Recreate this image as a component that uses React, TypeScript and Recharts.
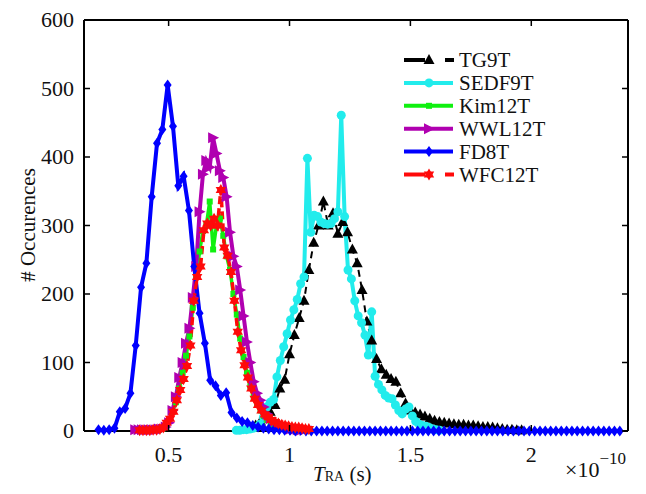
import { LineChart, Line, XAxis, YAxis, Legend } from 'recharts';

// tick values
const X_TICKS = [0.5, 1, 1.5, 2];
const Y_TICKS = [0, 100, 200, 300, 400, 500, 600];

// TG9T
const tg9tX = [
  0.86, 0.88, 0.9, 0.92, 0.94, 0.96, 0.98, 1.0, 1.02, 1.04,
  1.06, 1.08, 1.1, 1.12, 1.14, 1.16, 1.18, 1.2, 1.22, 1.24,
  1.26, 1.28, 1.3, 1.32, 1.34, 1.36, 1.38, 1.4, 1.42, 1.44,
  1.46, 1.48, 1.5, 1.52, 1.54, 1.56, 1.58, 1.6, 1.62, 1.64,
  1.66, 1.68, 1.7, 1.72, 1.74, 1.76, 1.78, 1.8, 1.82, 1.84,
  1.86, 1.88, 1.9, 1.92, 1.94, 1.96,
];
const tg9tY = [
  8, 14, 20, 28, 38, 62, 75, 112, 140, 165,
  190, 235, 275, 300, 335, 300, 318, 288, 305, 290,
  265, 245, 206, 160, 132, 105, 90, 82, 76, 72,
  55, 40, 30, 27, 24, 21, 18, 15, 13, 12,
  11, 10, 9, 9, 8, 8, 7, 6, 6, 5,
  4, 3, 2, 2, 1, 1,
];

// SEDF9T
const sedf9tX = [
  0.78, 0.794, 0.808, 0.822, 0.836, 0.85, 0.864, 0.878, 0.892, 0.906,
  0.92, 0.934, 0.948, 0.962, 0.976, 0.99, 1.004, 1.018, 1.032, 1.046,
  1.06, 1.074, 1.088, 1.102, 1.116, 1.13, 1.144, 1.158, 1.172, 1.186,
  1.2, 1.214, 1.228, 1.242, 1.256, 1.27, 1.284, 1.298, 1.312, 1.326,
  1.34, 1.354, 1.368, 1.382, 1.396, 1.41, 1.424, 1.438, 1.452, 1.466,
  1.48, 1.494, 1.508, 1.522, 1.536, 1.55, 1.564, 1.578, 1.592, 1.606,
  1.62,
];
const sedf9tY = [
  1, 1, 2, 2, 3, 4, 6, 10, 20, 35,
  42, 46, 79, 103, 123, 142, 162, 177, 192, 215,
  225, 398, 290, 315, 313, 305, 303, 302, 303, 310,
  320, 461, 313, 235, 222, 190, 168, 158, 140, 111,
  174, 80, 68, 60, 52, 48, 47, 38, 30, 25,
  32, 35, 22, 14, 10, 8, 7, 5, 3, 2,
  1,
];

// Kim12T
const kim12tX = [
  0.404, 0.418, 0.432, 0.446, 0.46, 0.474, 0.488, 0.502, 0.516, 0.53,
  0.544, 0.558, 0.572, 0.586, 0.6, 0.614, 0.628, 0.642, 0.656, 0.67,
  0.684, 0.698, 0.712, 0.726, 0.74, 0.754, 0.768, 0.782, 0.796, 0.81,
  0.824, 0.838, 0.852, 0.866, 0.88, 0.894, 0.908, 0.922, 0.936, 0.95,
  0.964, 0.978, 0.992, 1.006, 1.02, 1.034, 1.048,
];
const kim12tY = [
  1, 1, 1, 2, 2, 3, 8, 15, 28, 42,
  62, 85, 110, 138, 180, 225, 262, 292, 300, 335,
  265, 300, 310, 285, 255, 235, 200, 170, 135, 108,
  85, 65, 50, 38, 30, 22, 16, 12, 9, 7,
  5, 4, 3, 2, 1, 1, 1,
];

// WWL12T
const wwl12tX = [
  0.362, 0.376, 0.39, 0.404, 0.418, 0.432, 0.446, 0.46, 0.474, 0.488,
  0.502, 0.516, 0.53, 0.544, 0.558, 0.572, 0.586, 0.6, 0.614, 0.628,
  0.642, 0.656, 0.67, 0.684, 0.698, 0.712, 0.726, 0.74, 0.754, 0.768,
  0.782, 0.796, 0.81, 0.824, 0.838, 0.852, 0.866, 0.88, 0.894, 0.908,
  0.922, 0.936, 0.95, 0.964, 0.978, 0.992, 1.006, 1.02, 1.034, 1.048,
  1.062,
];
const wwl12tY = [
  2, 2, 2, 2, 2, 2, 2, 3, 3, 6,
  12, 30, 50, 78, 100, 128, 150, 195, 240, 320,
  375, 395, 385, 428, 405, 380, 370, 342, 290, 255,
  240, 206, 168, 130, 100, 72, 55, 45, 35, 25,
  18, 14, 10, 8, 6, 5, 3, 2, 2, 1,
  1,
];

// FD8T
const fd8tX = [
  0.21, 0.232, 0.254, 0.276, 0.298, 0.32, 0.342, 0.364, 0.386, 0.408,
  0.43, 0.452, 0.474, 0.496, 0.518, 0.54, 0.562, 0.584, 0.606, 0.628,
  0.65, 0.672, 0.694, 0.716, 0.738, 0.76, 0.782, 0.804, 0.826, 0.848,
  0.87, 0.892, 0.914, 0.936, 0.958, 0.98, 1.002, 1.024, 1.046, 1.068,
  1.09, 1.112, 1.134, 1.156, 1.178, 1.2, 1.222, 1.244, 1.266, 1.288,
  1.31, 1.332, 1.354, 1.376, 1.398, 1.42, 1.442, 1.464, 1.486, 1.508,
  1.53, 1.552, 1.574, 1.596, 1.618, 1.64, 1.662, 1.684, 1.706, 1.728,
  1.75, 1.772, 1.794, 1.816, 1.838, 1.86, 1.882, 1.904, 1.926, 1.948,
  1.97, 1.992, 2.014, 2.036, 2.058, 2.08, 2.102, 2.124, 2.146, 2.168,
  2.19, 2.212, 2.234, 2.256, 2.278, 2.3, 2.322, 2.344, 2.366,
];
const fd8tY = [
  2, 1, 2, 4, 28, 33, 55, 125, 210, 245,
  342, 420, 440, 505, 445, 358, 372, 322, 240, 172,
  128, 74, 66, 52, 56, 27, 19, 14, 12, 8,
  6, 4, 3, 2, 2, 1, 1, 0, 1, 0,
  0, 0, 0, 0, 0, 0, 0, 0, 0, 0,
  0, 0, 0, 0, 0, 0, 0, 0, 0, 0,
  0, 0, 0, 0, 0, 0, 0, 0, 0, 0,
  0, 0, 0, 0, 0, 0, 0, 0, 0, 0,
  0, 0, 0, 0, 0, 0, 0, 0, 0, 0,
  0, 0, 0, 0, 0, 0, 0, 0, 0,
];

// WFC12T
const wfc12tX = [
  0.38, 0.394, 0.408, 0.422, 0.436, 0.45, 0.464, 0.478, 0.492, 0.506,
  0.52, 0.534, 0.548, 0.562, 0.576, 0.59, 0.604, 0.618, 0.632, 0.646,
  0.66, 0.674, 0.688, 0.702, 0.716, 0.73, 0.744, 0.758, 0.772, 0.786,
  0.8, 0.814, 0.828, 0.842, 0.856, 0.87, 0.884, 0.898, 0.912, 0.926,
  0.94, 0.954, 0.968, 0.982, 0.996, 1.01, 1.024, 1.038, 1.052, 1.066,
  1.08,
];
const wfc12tY = [
  1, 1, 1, 1, 2, 2, 3, 5, 12, 18,
  28, 45, 60, 76, 95, 125, 190, 225, 240, 293,
  303, 300, 310, 300, 352, 268, 256, 232, 190, 145,
  118, 96, 78, 62, 47, 38, 30, 24, 20, 16,
  13, 11, 9, 8, 7, 6, 5, 5, 4, 3,
  3,
];

type Shape = 'triangle' | 'circle' | 'square' | 'right' | 'diamond' | 'star';

const zip = (xs: number[], ys: number[]) => xs.map((x, i) => ({ x, y: ys[i] }));

const SERIES: { name: string; data: { x: number; y: number }[]; color: string; shape: Shape; width: number; dash?: string }[] = [
  { name: 'TG9T', data: zip(tg9tX, tg9tY), color: '#000000', shape: 'triangle', width: 2, dash: '7 5' },
  { name: 'SEDF9T', data: zip(sedf9tX, sedf9tY), color: '#22ECEC', shape: 'circle', width: 4 },
  { name: 'Kim12T', data: zip(kim12tX, kim12tY), color: '#10F010', shape: 'square', width: 3.5 },
  { name: 'WWL12T', data: zip(wwl12tX, wwl12tY), color: '#B000B0', shape: 'right', width: 4 },
  { name: 'FD8T', data: zip(fd8tX, fd8tY), color: '#0000FF', shape: 'diamond', width: 4 },
  { name: 'WFC12T', data: zip(wfc12tX, wfc12tY), color: '#FF0A0A', shape: 'star', width: 3.5, dash: '8 4' },
];

const FONT = 'Liberation Serif';
const TXT = { fontFamily: FONT };

function Marker({ shape, cx, cy, color }: { shape: Shape; cx: number; cy: number; color: string }) {
  switch (shape) {
    case 'triangle':
      return <polygon points={`${cx},${cy - 6} ${cx + 5.5},${cy + 4} ${cx - 5.5},${cy + 4}`} fill={color} />;
    case 'circle':
      return <circle cx={cx} cy={cy} r={4.5} fill={color} />;
    case 'square':
      return <rect x={cx - 3} y={cy - 3} width={6} height={6} fill={color} />;
    case 'right':
      return <polygon points={`${cx + 6},${cy} ${cx - 5},${cy - 5.5} ${cx - 5},${cy + 5.5}`} fill={color} />;
    case 'diamond':
      return <polygon points={`${cx},${cy - 5.5} ${cx + 4},${cy} ${cx},${cy + 5.5} ${cx - 4},${cy}`} fill={color} />;
    case 'star': {
      const r = 6;
      const h = r * 0.866;
      return (
        <g fill={color}>
          <polygon points={`${cx},${cy - r} ${cx + h},${cy + r / 2} ${cx - h},${cy + r / 2}`} />
          <polygon points={`${cx},${cy + r} ${cx + h},${cy - r / 2} ${cx - h},${cy - r / 2}`} />
        </g>
      );
    }
  }
  return null;
}

const makeDot = (shape: Shape, color: string) => (p: any) => (
  <g key={`${shape}-${p.index}`}>
    {p.cx != null && p.cy != null ? <Marker shape={shape} cx={p.cx} cy={p.cy} color={color} /> : null}
  </g>
);

const BottomTick = ({ x, y, payload }: any) => (
  <g>
    <line x1={x} x2={x} y1={y} y2={y - 6} stroke="#000" strokeWidth={1.5} />
    <text x={x} y={y + 31} textAnchor="middle" fontSize={22} style={TXT} fill="#111">
      {payload.value}
    </text>
  </g>
);

const TopTick = ({ x, y }: any) => <line x1={x} x2={x} y1={y} y2={y + 6} stroke="#000" strokeWidth={1.5} />;

const LeftTick = ({ x, y, payload }: any) => (
  <g>
    <line x1={x} x2={x + 6} y1={y} y2={y} stroke="#000" strokeWidth={1.5} />
    <text x={x - 10} y={y + 7} textAnchor="end" fontSize={22} style={TXT} fill="#111">
      {payload.value}
    </text>
  </g>
);

const RightTick = ({ x, y }: any) => <line x1={x} x2={x - 6} y1={y} y2={y} stroke="#000" strokeWidth={1.5} />;

const renderLegend = () => (
  <svg width={160} height={145} style={{ display: 'block' }}>
    {SERIES.map((s, i) => {
      const y = 12 + i * 22.9;
      return (
        <g key={s.name}>
          {s.dash ? (
            <g stroke={s.color} strokeWidth={4}>
              <line x1={6} x2={27} y1={y} y2={y} />
              <line x1={47} x2={56} y1={y} y2={y} />
            </g>
          ) : (
            <line x1={6} x2={55} y1={y} y2={y} stroke={s.color} strokeWidth={4} />
          )}
          <Marker shape={s.shape} cx={31} cy={y} color={s.color} />
          <text x={61} y={y + 7} fontSize={21} style={TXT} fill="#111">
            {s.name}
          </text>
        </g>
      );
    })}
  </svg>
);

export default function App() {
  return (
    <div style={{ width: 630, height: 478, position: 'relative', fontFamily: FONT }}>
      <LineChart width={630} height={478} margin={{ top: 11, right: 9, bottom: 0, left: 0 }} style={{ overflow: 'visible' }}>
        <XAxis
          dataKey="x"
          type="number"
          domain={[0.15, 2.4]}
          ticks={X_TICKS}
          height={55}
          tickSize={0}
          tickMargin={0}
          tickLine={false}
          tick={BottomTick}
          axisLine={{ stroke: '#000', strokeWidth: 2 }}
          label={() => (
            <g style={TXT} fill="#111">
              <text x={305} y={473} fontSize={21} style={TXT}>
                <tspan fontStyle="italic">T</tspan>
                <tspan fontSize={14}>RA</tspan>
                <tspan> (s)</tspan>
              </text>
              <text x={557} y={469} fontSize={22} style={TXT}>
                ×10
                <tspan dy={-13} fontSize={17}>−10</tspan>
              </text>
            </g>
          )}
        />
        <XAxis
          xAxisId="top"
          orientation="top"
          dataKey="x"
          type="number"
          domain={[0.15, 2.4]}
          ticks={X_TICKS}
          height={1}
          tickSize={0}
          tickMargin={0}
          tickLine={false}
          tick={TopTick}
          axisLine={{ stroke: '#000', strokeWidth: 2 }}
        />
        <YAxis
          type="number"
          domain={[0, 600]}
          ticks={Y_TICKS}
          width={76}
          tickSize={0}
          tickMargin={0}
          tickLine={false}
          tick={LeftTick}
          axisLine={{ stroke: '#000', strokeWidth: 2 }}
          label={() => (
            <text
              x={20}
              y={217}
              transform="rotate(-90 20 217)"
              textAnchor="middle"
              dominantBaseline="central"
              fontSize={21}
              style={TXT}
              fill="#111"
            >
              # Occurences
            </text>
          )}
        />
        <YAxis
          yAxisId="right"
          orientation="right"
          type="number"
          domain={[0, 600]}
          ticks={Y_TICKS}
          width={1}
          tickSize={0}
          tickMargin={0}
          tickLine={false}
          tick={RightTick}
          axisLine={{ stroke: '#000', strokeWidth: 2 }}
        />
        {/* invisible series so the top and right frame axes get drawn */}
        <Line
          xAxisId="top"
          yAxisId="right"
          data={SERIES[4].data}
          dataKey="y"
          stroke="none"
          dot={false}
          activeDot={false}
          legendType="none"
          isAnimationActive={false}
        />
        {SERIES.map((s) => (
          <Line
            key={s.name}
            name={s.name}
            data={s.data}
            dataKey="y"
            type="linear"
            stroke={s.color}
            strokeWidth={s.width}
            strokeDasharray={s.dash}
            dot={makeDot(s.shape, s.color)}
            activeDot={false}
            isAnimationActive={false}
          />
        ))}
        <Legend
          layout="vertical"
          align="center"
          verticalAlign="middle"
          content={renderLegend}
          wrapperStyle={{ left: 390, top: 40, width: 160, height: 145 }}
        />
      </LineChart>
    </div>
  );
}
